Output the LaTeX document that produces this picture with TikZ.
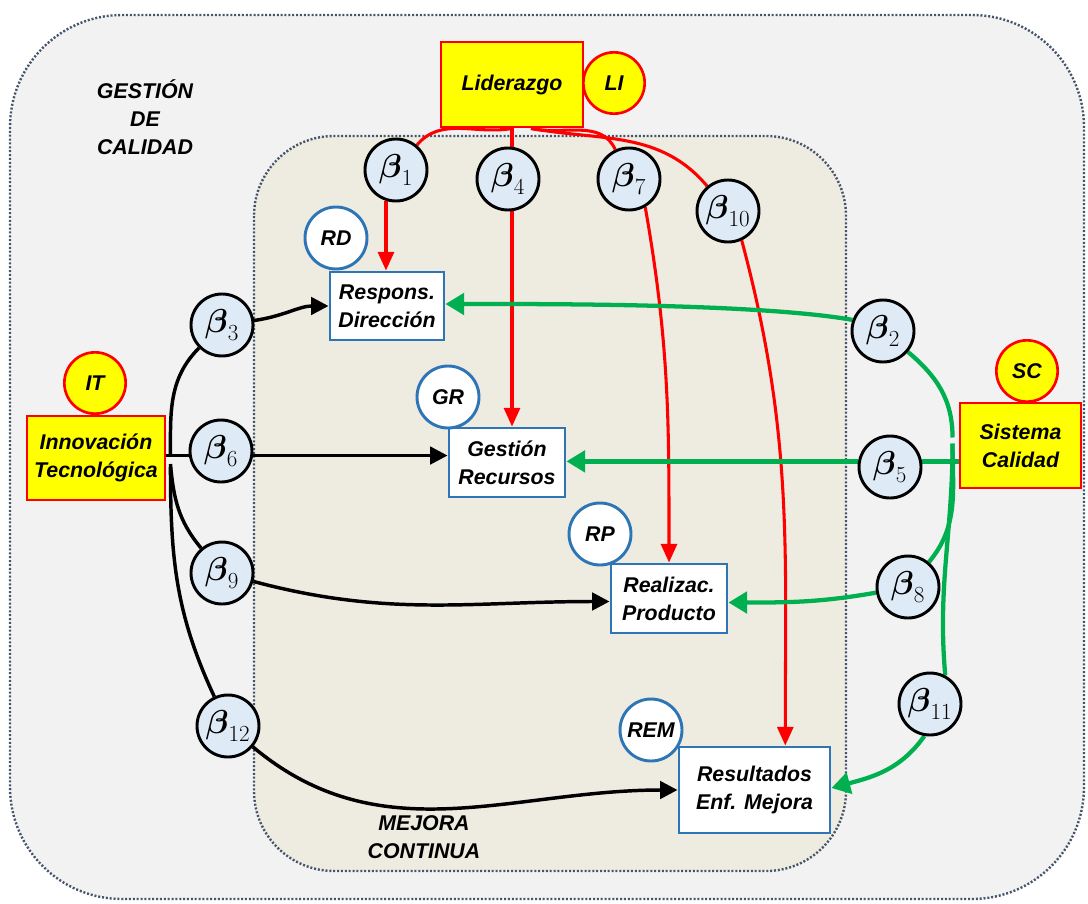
\documentclass[tikz,border=0pt]{standalone}
\usepackage{fontspec}
\usepackage{amsmath}
\usetikzlibrary{arrows.meta,calc}
\newfontfamily\arl{Liberation Sans}
\definecolor{outerfill}{RGB}{242,242,242}
\definecolor{innerfill}{RGB}{238,235,225}
\definecolor{rimcol}{RGB}{68,84,106}
\definecolor{boxblue}{RGB}{46,117,182}
\definecolor{betafill}{RGB}{222,235,247}
\definecolor{hired}{RGB}{255,0,0}
\definecolor{hiyellow}{RGB}{255,255,0}
\definecolor{qgreen}{RGB}{0,176,80}
\newcommand{\betalab}[1]{$\boldsymbol{\beta}_{#1}$}
\pgfdeclarelayer{bg}
\pgfdeclarelayer{wires}
\pgfsetlayers{bg,wires,main}
\tikzset{
  lbl/.style={font=\arl\bfseries\itshape\fontsize{16}{21}\selectfont, align=center},
  yelbox/.style={lbl, draw=hired, fill=hiyellow, line width=2.2pt, inner sep=0pt},
  yelcirc/.style={lbl, circle, draw=hired, fill=hiyellow, line width=2pt, minimum size=46pt, inner sep=0pt},
  bluebox/.style={lbl, draw=boxblue, fill=white, line width=2.2pt, inner sep=0pt},
  bluecirc/.style={lbl, circle, draw=boxblue, fill=white, line width=2.2pt, minimum size=46.5pt, inner sep=0pt},
  betanode/.style={circle, draw=black, fill=betafill, line width=2.2pt, minimum size=46.5pt, inner sep=0pt, font=\fontsize{24}{26}\selectfont},
  region/.style={draw=rimcol, line width=1.8pt, dash pattern=on 1.5pt off 1.4pt},
  redwire/.style={draw=hired, line width=2.3pt},
  redarrow/.style={redwire, -{Triangle[length=14pt,width=12pt]}},
  blackwire/.style={draw=black, line width=2.6pt},
  blackarrow/.style={blackwire, -{Triangle[length=13pt,width=13pt]}},
  greenwire/.style={draw=qgreen, line width=3.2pt},
  greenarrow/.style={greenwire, -{Triangle[length=14pt,width=16pt]}}
}
\begin{document}
\begin{tikzpicture}[x=0.75pt,y=-0.75pt]
\useasboundingbox (0,0) rectangle (1088,903);

% regions
\begin{pgfonlayer}{bg}
  \fill[white] (0,0) rectangle (1088,903);
  \draw[region, fill=outerfill, rounded corners=84pt] (10,15) rectangle (1084,899);
  \draw[region, fill=innerfill, rounded corners=60pt] (254,136) rectangle (846,871);
\end{pgfonlayer}

\node[lbl] (gdc) at (145,117) {GESTIÓN\\DE\\CALIDAD};
\node[lbl] (mc) at (424,837) {MEJORA\\CONTINUA};

% driver boxes
\node[yelbox, minimum width=106.5pt, minimum height=63.75pt] (LID) at (512,84.5) {Liderazgo};
\node[yelcirc] (LI) at (614,83) {LI};
\node[yelbox, minimum width=103.5pt, minimum height=63pt] (INN) at (96,458) {Innovación\\Tecnológica};
\node[yelcirc] (IT) at (95,383) {IT};
\node[yelbox, minimum width=90.75pt, minimum height=63.75pt] (SIS) at (1020.5,445.5) {Sistema\\Calidad};
\node[yelcirc] (SC) at (1027,371) {SC};

% result boxes
\node[bluebox, minimum width=85.5pt, minimum height=51pt] (RESP) at (387,306) {Respons.\\Dirección};
\node[bluebox, minimum width=87pt, minimum height=51.75pt] (GEST) at (507,462.5) {Gestión\\Recursos};
\node[bluebox, minimum width=87pt, minimum height=51.75pt] (REAL) at (669,598.5) {Realizac.\\Producto};
\node[bluebox, minimum width=113.25pt, minimum height=64.5pt] (RES) at (754.5,790) {Resultados\\Enf. Mejora};
\node[bluecirc] (RD) at (336,238) {RD};
\node[bluecirc] (GR) at (448,397) {GR};
\node[bluecirc] (RP) at (600,534) {RP};
\node[bluecirc] (REM) at (651,730) {REM};

% coefficients
\node[betanode] (b1) at (396,170) {\betalab{1}};
\node[betanode] (b4) at (508,179) {\betalab{4}};
\node[betanode] (b7) at (629,179) {\betalab{7}};
\node[betanode] (b10) at (728,211) {\betalab{10}};
\node[betanode] (b3) at (222,325) {\betalab{3}};
\node[betanode] (b6) at (221,451) {\betalab{6}};
\node[betanode] (b9) at (222,573) {\betalab{9}};
\node[betanode] (b12) at (228,726) {\betalab{12}};
\node[betanode] (b2) at (883,331) {\betalab{2}};
\node[betanode] (b5) at (890,467) {\betalab{5}};
\node[betanode] (b8) at (908,587) {\betalab{8}};
\node[betanode] (b11) at (930,704) {\betalab{11}};

\begin{pgfonlayer}{wires}
  % Liderazgo
  \coordinate (lidB) at ($(LID.south)+(19,0)$);
  \draw[redwire] (LID.south) to[out=190, in=50] (b1);
  \draw[redarrow] (b1.252) -- (b1.252 |- RESP.north);
  \draw[redwire] (LID.south) -- (LID.south |- b4.north);
  \draw[redarrow] (LID.south |- b4.south) -- (LID.south |- GEST.north);
  \draw[redwire] (lidB) to[out=-12, in=115] (b7);
  \draw[redarrow] (b7.-60) to[out=-80, in=90] (REAL.north);
  \draw[redwire] (lidB) to[out=-10, in=130] (b10);
  \draw[redarrow] (b10.-65) to[out=-75, in=90] ($(RES.north east)!0.3!(RES.north west)$);

  % Innovacion Tecnologica
  \draw[blackwire] ($(INN.east)+(4,-3)$) to[out=90, in=225] (b3);
  \draw[blackarrow] (b3) to[out=8, in=180] (RESP.west);
  \draw[blackwire] (b6.-8 -| INN.east) -- (b6.-8);
  \draw[blackarrow] (b6.-8) -- (b6.-8 -| GEST.west);
  \draw[blackwire] ($(INN.east)+(4,6)$) to[out=-85, in=130] (b9);
  \draw[blackarrow] (b9) to[out=-15, in=180] ($(REAL.west)+(0,3)$);
  \draw[blackwire] ($(INN.east)+(4,9)$) to[out=-90, in=115] (b12);
  \draw[blackarrow] (b12) to[out=-40, in=180] (RES.west);

  % Sistema Calidad
  \draw[greenwire] ($(SIS.west)+(-6,-8)$) to[out=90, in=-40] (b2);
  \draw[greenarrow] (b2.160) to[out=170, in=0, looseness=0.6] ($(RESP.east)+(0,-2)$);
  \draw[greenwire] (b5.10 -| SIS.west) -- (b5.10);
  \draw[greenarrow] (b5.170) -- (b5.170 -| GEST.east);
  \draw[greenwire] ($(SIS.west)+(-6,-2)$) to[out=-90, in=50] (b8);
  \draw[greenarrow] (b8) to[out=190, in=0] ($(REAL.east)+(0,4)$);
  \draw[greenwire] ($(SIS.west)+(-6,-2)$) to[out=-90, in=95] (b11.62);
  \draw[greenarrow] (b11.-100) to[out=-125, in=15] ($(RES.east)+(0,-2)$);
\end{pgfonlayer}
\end{tikzpicture}
\end{document}
